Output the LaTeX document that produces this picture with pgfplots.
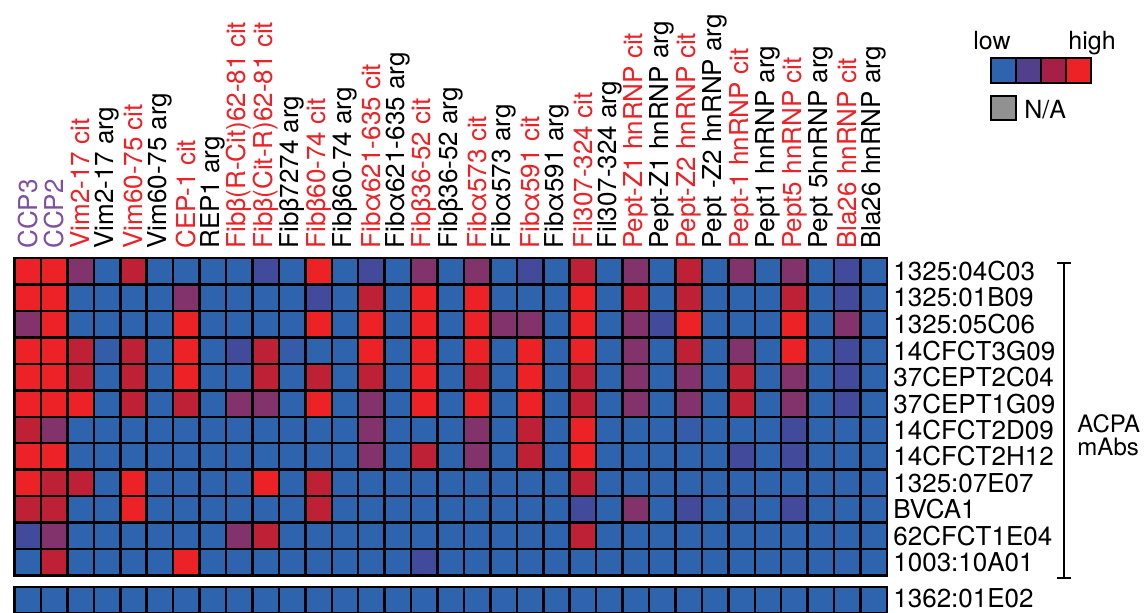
\documentclass[border=0pt]{standalone}
\usepackage{pgfplots}
\pgfplotsset{compat=1.18}
\usepackage{fontspec}
\setmainfont{TeX Gyre Heros}
\definecolor{cblue}{RGB}{46,100,174}
\definecolor{lg2}{RGB}{82,64,140}
\definecolor{lg3}{RGB}{166,31,70}
\definecolor{cred}{RGB}{236,34,39}
\definecolor{cpurp}{RGB}{125,80,163}
\definecolor{nagray}{RGB}{145,145,145}
\pgfplotsset{
  colormap={acpa}{rgb255(0cm)=(46,100,174) rgb255(1cm)=(66,74,155) rgb255(2cm)=(130,51,107) rgb255(3cm)=(190,32,54) rgb255(4cm)=(236,34,39)},
  hm/.style={
    scale only axis, width=436.25pt,
    xmin=0.5, xmax=33.5, y dir=reverse,
    colormap name=acpa, point meta min=0, point meta max=4,
    axis on top,
    axis line style={black, line width=1.4pt},
    major tick length=0pt, minor tick length=0pt,
    xtick={1,...,33},
    minor xtick={1.5,2.5,...,32.5},
    xminorgrids, yminorgrids,
    minor grid style={black, line width=1.25pt},
    ticklabel style={font=\fontsize{13}{15}\selectfont},
    yticklabel pos=right,
    yticklabel style={anchor=west, inner sep=0pt},
    yticklabel shift=3pt,
    /pgf/number format/assume math mode=true,
  }
}
\newcommand{\cit}[1]{\textcolor{cred}{#1}}
\begin{document}
\begin{tikzpicture}
\path[use as bounding box] (0,0) rectangle (573.5pt,306pt);
\clip (0,0) rectangle (573.5pt,306pt);
\begin{axis}[hm,
  at={(7.25pt,18.25pt)}, anchor=south west,
  height=158.75pt,
  ymin=0.5, ymax=12.5,
  minor ytick={1.5,2.5,...,11.5},
  ytick={1,...,12},
  xticklabel pos=upper,
  xticklabel style={rotate=90, anchor=west, inner sep=0pt},
  xticklabel shift=4.5pt,
  xticklabels={{\textcolor{cpurp}{CCP3}},{\textcolor{cpurp}{CCP2}},\cit{Vim2-17 cit},Vim2-17 arg,\cit{Vim60-75 cit},Vim60-75 arg,\cit{CEP-1 cit},REP1 arg,\cit{Fibβ(R-Cit)62-81 cit},\cit{Fibβ(Cit-R)62-81 cit},Fibβ7274 arg,\cit{Fibβ60-74 cit},Fibβ60-74 arg,\cit{Fibα621-635 cit},Fibα621-635 arg,\cit{Fibβ36-52 cit},Fibβ36-52 arg,\cit{Fibα573 cit},Fibα573 arg,\cit{Fibα591 cit},Fibα591 arg,\cit{Fil307-324 cit},Fil307-324 arg,\cit{Pept-Z1 hnRNP cit},Pept-Z1 hnRNP arg,\cit{Pept-Z2 hnRNP cit},Pept -Z2 hnRNP arg,\cit{Pept-1 hnRNP cit},Pept1 hnRNP arg,\cit{Pept5 hnRNP cit},Pept 5hnRNP arg,\cit{Bla26 hnRNP cit},Bla26 hnRNP arg},
  yticklabels={1325:04C03,1325:01B09,1325:05C06,14CFCT3G09,37CEPT2C04,37CEPT1G09,14CFCT2D09,14CFCT2H12,1325:07E07,BVCA1,62CFCT1E04,1003:10A01},
]
\addplot[matrix plot*, mesh/cols=33, point meta=explicit] coordinates {
(1,1)[4] (2,1)[4] (3,1)[2] (4,1)[0] (5,1)[3] (6,1)[0] (7,1)[0] (8,1)[0] (9,1)[0] (10,1)[1] (11,1)[0] (12,1)[4] (13,1)[0] (14,1)[1] (15,1)[0] (16,1)[2] (17,1)[0] (18,1)[2] (19,1)[0] (20,1)[1] (21,1)[0] (22,1)[3] (23,1)[0] (24,1)[2] (25,1)[0] (26,1)[3] (27,1)[0] (28,1)[2] (29,1)[0] (30,1)[2] (31,1)[0] (32,1)[1] (33,1)[0]
(1,2)[4] (2,2)[4] (3,2)[0] (4,2)[0] (5,2)[0] (6,2)[0] (7,2)[2] (8,2)[0] (9,2)[0] (10,2)[0] (11,2)[0] (12,2)[1] (13,2)[0] (14,2)[3] (15,2)[0] (16,2)[4] (17,2)[0] (18,2)[4] (19,2)[0] (20,2)[0] (21,2)[0] (22,2)[4] (23,2)[0] (24,2)[3] (25,2)[0] (26,2)[3] (27,2)[0] (28,2)[0] (29,2)[0] (30,2)[3] (31,2)[0] (32,2)[1] (33,2)[0]
(1,3)[2] (2,3)[4] (3,3)[0] (4,3)[0] (5,3)[0] (6,3)[0] (7,3)[4] (8,3)[0] (9,3)[0] (10,3)[0] (11,3)[0] (12,3)[4] (13,3)[0] (14,3)[4] (15,3)[0] (16,3)[4] (17,3)[0] (18,3)[4] (19,3)[2] (20,3)[2] (21,3)[0] (22,3)[4] (23,3)[0] (24,3)[2] (25,3)[1] (26,3)[4] (27,3)[0] (28,3)[0] (29,3)[0] (30,3)[4] (31,3)[0] (32,3)[2] (33,3)[0]
(1,4)[4] (2,4)[4] (3,4)[3] (4,4)[0.3] (5,4)[3] (6,4)[0] (7,4)[4] (8,4)[0] (9,4)[1] (10,4)[3] (11,4)[0.3] (12,4)[0] (13,4)[0] (14,4)[4] (15,4)[0] (16,4)[4] (17,4)[0] (18,4)[4] (19,4)[0] (20,4)[4] (21,4)[0] (22,4)[4] (23,4)[0] (24,4)[2] (25,4)[0] (26,4)[3] (27,4)[0] (28,4)[2] (29,4)[0] (30,4)[4] (31,4)[0] (32,4)[1] (33,4)[0]
(1,5)[4] (2,5)[4] (3,5)[3] (4,5)[0] (5,5)[3] (6,5)[0] (7,5)[4] (8,5)[0] (9,5)[0] (10,5)[3] (11,5)[0] (12,5)[3] (13,5)[0] (14,5)[3] (15,5)[0] (16,5)[4] (17,5)[0] (18,5)[3] (19,5)[0] (20,5)[4] (21,5)[0] (22,5)[3] (23,5)[0] (24,5)[2] (25,5)[0] (26,5)[2] (27,5)[0] (28,5)[3] (29,5)[0] (30,5)[2] (31,5)[0] (32,5)[1] (33,5)[0]
(1,6)[4] (2,6)[4] (3,6)[4] (4,6)[0] (5,6)[3] (6,6)[0] (7,6)[3] (8,6)[0] (9,6)[2] (10,6)[2] (11,6)[0] (12,6)[4] (13,6)[0] (14,6)[2] (15,6)[0] (16,6)[4] (17,6)[0] (18,6)[4] (19,6)[0] (20,6)[4] (21,6)[0] (22,6)[3] (23,6)[0] (24,6)[2] (25,6)[0] (26,6)[2] (27,6)[0] (28,6)[3] (29,6)[0] (30,6)[2] (31,6)[0] (32,6)[1] (33,6)[0]
(1,7)[3] (2,7)[2] (3,7)[0] (4,7)[0] (5,7)[0] (6,7)[0] (7,7)[0] (8,7)[0] (9,7)[0] (10,7)[0] (11,7)[0] (12,7)[0] (13,7)[0] (14,7)[2] (15,7)[0] (16,7)[0] (17,7)[0] (18,7)[2] (19,7)[0] (20,7)[3] (21,7)[0] (22,7)[4] (23,7)[0] (24,7)[0] (25,7)[0] (26,7)[0.3] (27,7)[0] (28,7)[0] (29,7)[0] (30,7)[1] (31,7)[0] (32,7)[0] (33,7)[0]
(1,8)[4] (2,8)[4] (3,8)[0] (4,8)[0] (5,8)[0] (6,8)[0] (7,8)[0] (8,8)[0] (9,8)[0] (10,8)[0] (11,8)[0] (12,8)[0] (13,8)[0] (14,8)[2] (15,8)[0] (16,8)[3] (17,8)[0] (18,8)[2] (19,8)[0] (20,8)[3] (21,8)[0] (22,8)[4] (23,8)[0] (24,8)[0] (25,8)[0] (26,8)[0] (27,8)[0] (28,8)[1] (29,8)[0] (30,8)[1] (31,8)[0] (32,8)[0] (33,8)[0]
(1,9)[4] (2,9)[3] (3,9)[3] (4,9)[0] (5,9)[4] (6,9)[0] (7,9)[0] (8,9)[0] (9,9)[0] (10,9)[4] (11,9)[0] (12,9)[3] (13,9)[0] (14,9)[0] (15,9)[0] (16,9)[0] (17,9)[0] (18,9)[0] (19,9)[0] (20,9)[0] (21,9)[0] (22,9)[3] (23,9)[0] (24,9)[0] (25,9)[0] (26,9)[0] (27,9)[0] (28,9)[0] (29,9)[0] (30,9)[0] (31,9)[0] (32,9)[0] (33,9)[0]
(1,10)[3] (2,10)[3] (3,10)[0] (4,10)[0] (5,10)[4] (6,10)[0] (7,10)[0] (8,10)[0] (9,10)[0] (10,10)[0] (11,10)[0] (12,10)[3] (13,10)[0] (14,10)[0] (15,10)[0] (16,10)[0] (17,10)[0] (18,10)[0] (19,10)[0] (20,10)[0] (21,10)[0] (22,10)[1] (23,10)[0] (24,10)[2] (25,10)[0] (26,10)[1] (27,10)[0] (28,10)[0.3] (29,10)[0] (30,10)[1] (31,10)[0] (32,10)[0] (33,10)[0]
(1,11)[1] (2,11)[2] (3,11)[0] (4,11)[0] (5,11)[0] (6,11)[0] (7,11)[0] (8,11)[0] (9,11)[2] (10,11)[3] (11,11)[0] (12,11)[0] (13,11)[0] (14,11)[0] (15,11)[0] (16,11)[0] (17,11)[0] (18,11)[0] (19,11)[0] (20,11)[0] (21,11)[0] (22,11)[3] (23,11)[0] (24,11)[0] (25,11)[0] (26,11)[0] (27,11)[0] (28,11)[0] (29,11)[0] (30,11)[0] (31,11)[0] (32,11)[0] (33,11)[0]
(1,12)[0] (2,12)[3] (3,12)[0] (4,12)[0] (5,12)[0] (6,12)[0] (7,12)[4] (8,12)[0] (9,12)[0] (10,12)[0] (11,12)[0] (12,12)[0] (13,12)[0] (14,12)[0] (15,12)[0] (16,12)[1] (17,12)[0] (18,12)[0] (19,12)[0] (20,12)[0] (21,12)[0] (22,12)[0] (23,12)[0] (24,12)[0] (25,12)[0] (26,12)[0] (27,12)[0] (28,12)[0] (29,12)[0] (30,12)[0] (31,12)[0] (32,12)[0] (33,12)[0]
};
\end{axis}
\begin{axis}[hm,
  at={(7.25pt,-0.75pt)}, anchor=south west,
  height=13.25pt,
  ymin=0.5, ymax=1.5,
  xticklabels={}, ytick={1},
  yticklabels={1362:01E02},
  yticklabel style={yshift=1pt},
]
% second row lies below the visible page (the reference is cut off there)
\addplot[matrix plot*, mesh/cols=33, point meta=explicit] coordinates {
(1,1)[0] (2,1)[0] (3,1)[0] (4,1)[0] (5,1)[0] (6,1)[0] (7,1)[0] (8,1)[0] (9,1)[0] (10,1)[0] (11,1)[0] (12,1)[0] (13,1)[0] (14,1)[0] (15,1)[0] (16,1)[0] (17,1)[0] (18,1)[0] (19,1)[0] (20,1)[0] (21,1)[0] (22,1)[0] (23,1)[0] (24,1)[0] (25,1)[0] (26,1)[0] (27,1)[0] (28,1)[0] (29,1)[0] (30,1)[0] (31,1)[0] (32,1)[0] (33,1)[0]
(1,2)[0] (2,2)[0] (3,2)[0] (4,2)[0] (5,2)[0] (6,2)[0] (7,2)[0] (8,2)[0] (9,2)[0] (10,2)[0] (11,2)[0] (12,2)[0] (13,2)[0] (14,2)[0] (15,2)[0] (16,2)[0] (17,2)[0] (18,2)[0] (19,2)[0] (20,2)[0] (21,2)[0] (22,2)[0] (23,2)[0] (24,2)[0] (25,2)[0] (26,2)[0] (27,2)[0] (28,2)[0] (29,2)[0] (30,2)[0] (31,2)[0] (32,2)[0] (33,2)[0]
};
\end{axis}
% bracket and group label
\draw[line width=0.8pt] (528.5pt,174.5pt) -- (535.5pt,174.5pt) (532pt,174.5pt) -- (532pt,17pt) (528.5pt,17pt) -- (535.5pt,17pt);
\node[anchor=west, inner sep=0pt, align=left, font=\fontsize{12}{11.5}\selectfont] at (538.5pt,88.5pt) {ACPA\\mAbs};
% legend
\foreach \c [count=\i from 0] in {cblue,lg2,lg3,cred}
  \filldraw[fill=\c, draw=black, line width=1pt] ({495.5pt+\i*12.5pt},264.5pt) rectangle ++(12.5pt,12.5pt);
\filldraw[fill=nagray, draw=black, line width=1pt] (495.5pt,246pt) rectangle (508pt,258pt);
\node[anchor=base west, inner sep=0pt, font=\fontsize{12.5}{14}\selectfont] at (486.5pt,281pt) {low};
\node[anchor=base west, inner sep=0pt, font=\fontsize{12.5}{14}\selectfont] at (534pt,281pt) {high};
\node[anchor=base west, inner sep=0pt, font=\fontsize{12.5}{14}\selectfont] at (512pt,247pt) {N/A};
\end{tikzpicture}
\end{document}
